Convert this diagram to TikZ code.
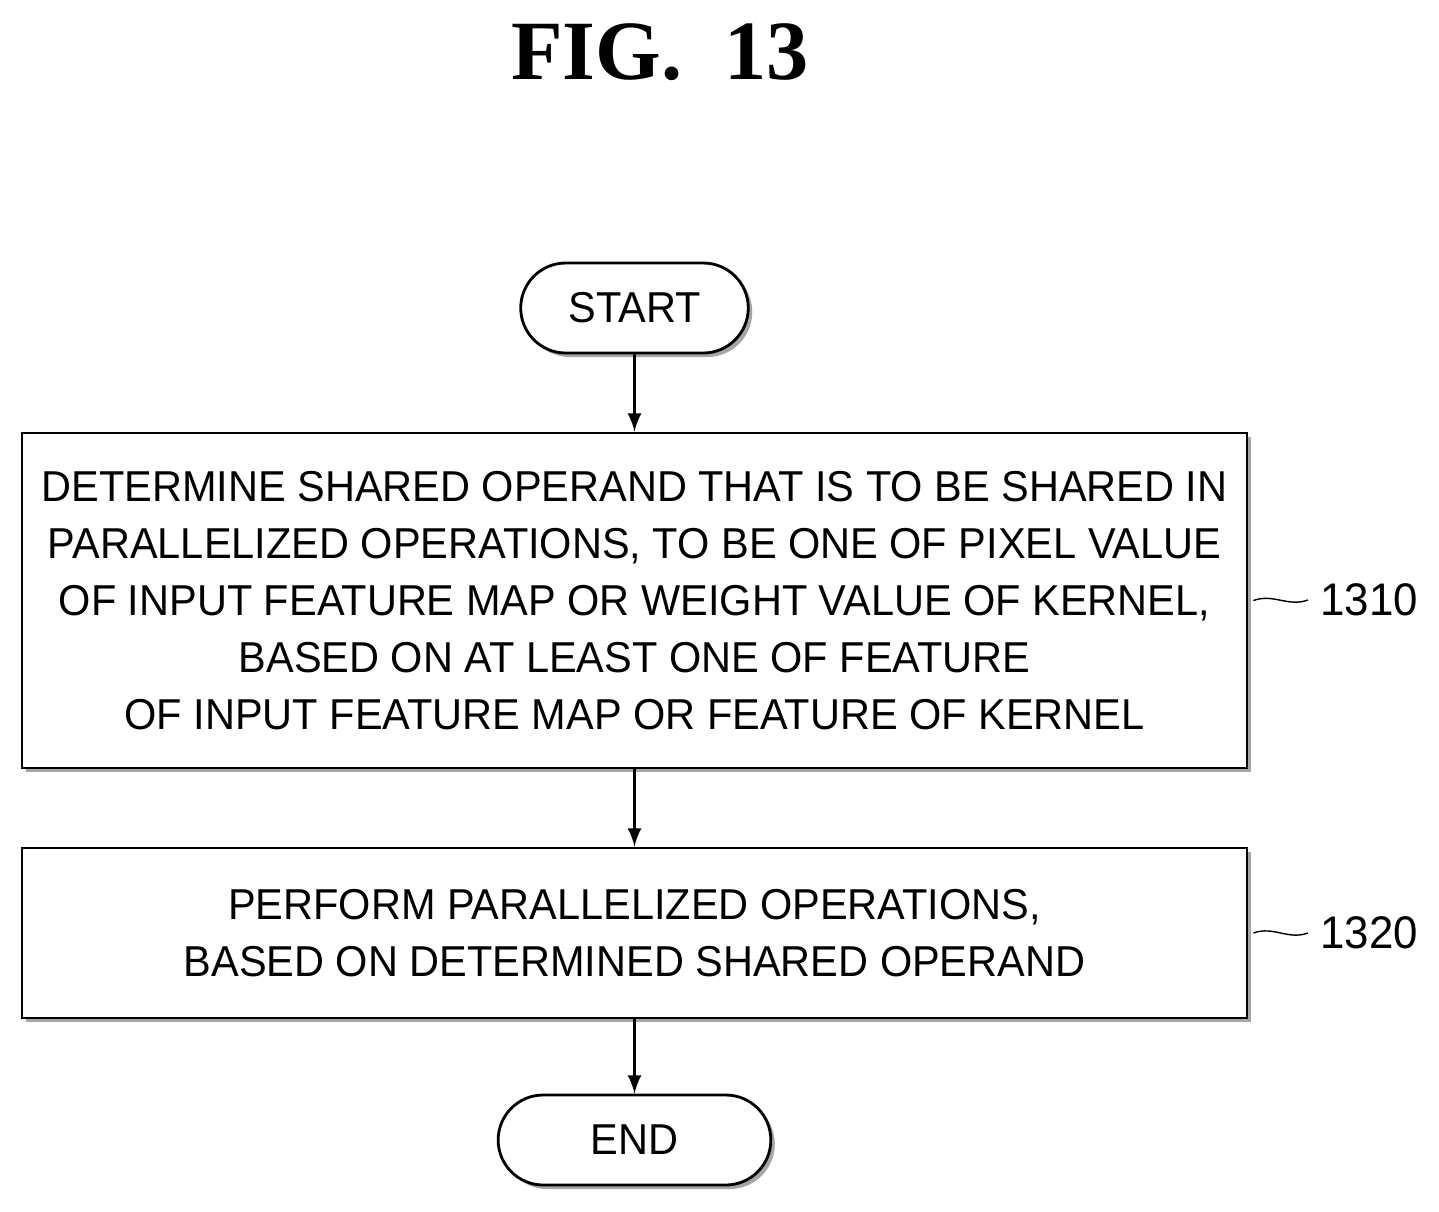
\documentclass[tikz,border=0pt]{standalone}
\usepackage{fontspec}
\setmainfont{Liberation Serif}
\setsansfont[FakeStretch=0.96]{Liberation Sans}
\usetikzlibrary{positioning,shadows,shapes.misc}
\tikzset{
  box/.style={draw,thick,fill=white,minimum width=12.25cm,align=center,
    font=\sffamily\fontsize{12.3}{16.2}\selectfont,
    drop shadow={shadow xshift=0.04cm,shadow yshift=-0.04cm,fill=gray!70,opacity=1}},
  term/.style={box,rounded rectangle,minimum width=2.25cm,minimum height=0.9cm},
  flow/.style={thick,-latex},
  refno/.style={font=\sffamily\fontsize{13}{15}\selectfont}
}
\begin{document}
\begin{tikzpicture}
\useasboundingbox (0,0) rectangle (14.39,-12.11);

% title
\node[font=\bfseries\fontsize{24}{28}\selectfont] (title) at (6.6,-0.52) {FIG.\ \ 13};

% start node
\node[term,inner xsep=0.45cm] (start) at (6.345,-3.08) {START};

% step 1310
\node[box,minimum height=3.35cm] (s1310) at (6.345,-6.005) {DETERMINE SHARED OPERAND THAT IS TO BE SHARED IN\\
PARALLELIZED OPERATIONS, TO BE ONE OF PIXEL VALUE\\
OF INPUT FEATURE MAP OR WEIGHT VALUE OF KERNEL,\\
BASED ON AT LEAST ONE OF FEATURE\\
OF INPUT FEATURE MAP OR FEATURE OF KERNEL};

% step 1320
\node[box,minimum height=1.7cm] (s1320) at (6.345,-9.33) {PERFORM PARALLELIZED OPERATIONS,\\
BASED ON DETERMINED SHARED OPERAND};

% end node
\node[term,inner xsep=0.9cm] (end) at (6.345,-11.4) {END};

\draw[flow] (start) -- (start |- s1310.north);
\draw[flow] (s1310) -- (s1310 |- s1320.north);
\draw[flow] (s1320) -- (s1320 |- end.north);

% reference numbers
\node[refno,anchor=west] (n1310) at (13.08,-6.0) {1310};
\node[refno,anchor=west] (n1320) at (13.08,-9.33) {1320};
\draw (s1310.east) ++(0.05,0) coordinate (a1310) to[out=20,in=200] (n1310.west);
\draw (s1320.east) ++(0.05,0) coordinate (a1320) to[out=20,in=200] (n1320.west);

\end{tikzpicture}
\end{document}
